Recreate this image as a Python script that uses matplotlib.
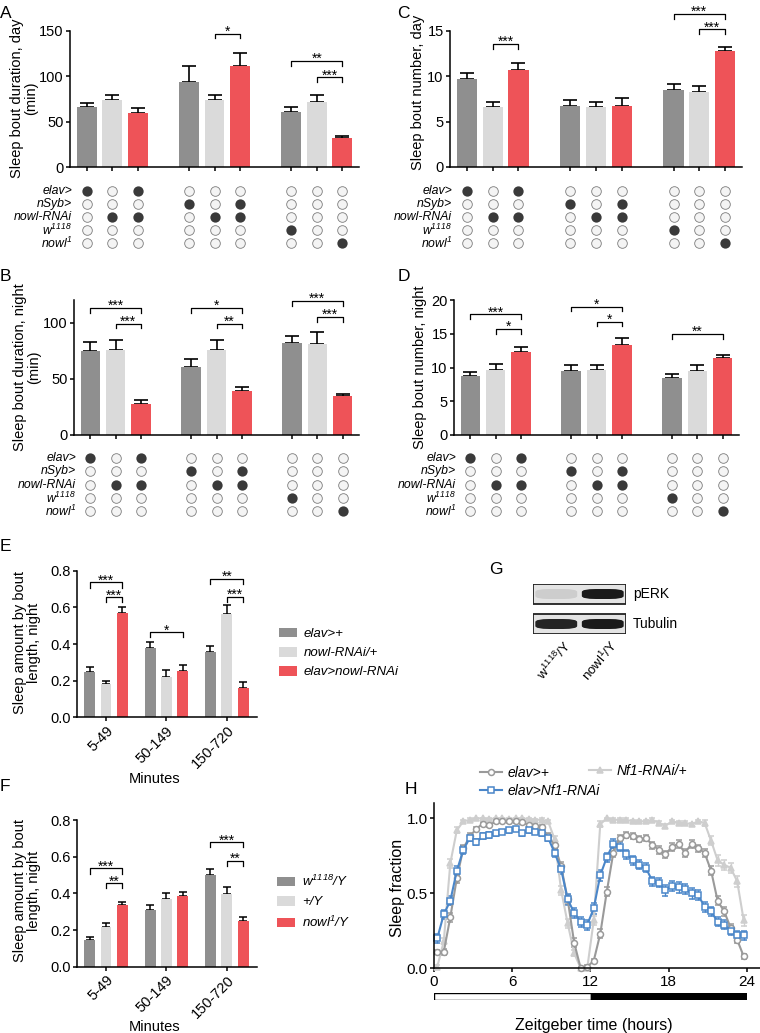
import numpy as np
import matplotlib
matplotlib.use('Agg')
import matplotlib.pyplot as plt
from matplotlib.patches import Rectangle, FancyBboxPatch
from matplotlib.lines import Line2D
from matplotlib.transforms import blended_transform_factory

plt.rcParams['font.family'] = ['Liberation Sans', 'DejaVu Sans']
plt.rcParams['axes.linewidth'] = 1.1
plt.rcParams['mathtext.default'] = 'regular'

FIG_W, FIG_H = 760, 1033

# colours
DARK_GREY = '#8f8f8f'
LIGHT_GREY = '#dadada'
RED = '#ee5358'
BAR_COLORS = [DARK_GREY, LIGHT_GREY, RED]
LINE_GREY = '#9a9a9a'
LINE_LIGHT = '#cecece'
LINE_BLUE = '#4a86c9'

# ---- panels A-D: nine bars in three groups ----
BAR_POS = [0, 1, 2, 4, 5, 6, 8, 9, 10]
GENO_ROWS = ['elav>', 'nSyb>', 'nowl-RNAi', 'w$^{1118}$', 'nowl$^{1}$']
GENO_ON = [
    [1, 0, 1, 0, 0, 0, 0, 0, 0],
    [0, 0, 0, 1, 0, 1, 0, 0, 0],
    [0, 1, 1, 0, 1, 1, 0, 0, 0],
    [0, 0, 0, 0, 0, 0, 1, 0, 0],
    [0, 0, 0, 0, 0, 0, 0, 0, 1],
]

a_mean = [66, 74, 60, 94, 74, 111, 61, 72, 32]
a_err = [5, 6, 5, 17, 6, 15, 5, 7.5, 2]
a_sig = [(4, 5, 147, '*'), (6, 8, 117, '**'), (7, 8, 99, '***')]

b_mean = [74.4, 76, 28, 60.3, 76, 38.8, 81.8, 81, 34.4]
b_err = [8.6, 8.7, 3, 7.3, 8.7, 3.6, 6.4, 10.8, 1.8]
b_sig = [(0, 2, 113, '***'), (1, 2, 99, '***'), (3, 5, 113, '*'),
         (4, 5, 99, '**'), (6, 8, 119, '***'), (7, 8, 105, '***')]

c_mean = [9.72, 6.67, 10.7, 6.75, 6.67, 6.75, 8.5, 8.29, 12.83]
c_err = [0.62, 0.48, 0.8, 0.65, 0.48, 0.91, 0.63, 0.69, 0.44]
c_sig = [(1, 2, 13.57, '***'), (6, 8, 16.9, '***'), (7, 8, 15.2, '***')]

d_mean = [8.8, 9.63, 12.35, 9.53, 9.63, 13.4, 8.4, 9.53, 11.36]
d_err = [0.6, 0.87, 0.75, 0.87, 0.77, 0.9, 0.6, 0.87, 0.49]
d_sig = [(0, 2, 17.9, '***'), (1, 2, 15.7, '*'), (3, 5, 19.0, '*'),
         (4, 5, 16.8, '*'), (6, 8, 14.96, '**')]

# ---- panels E, F: sleep amount by bout length ----
bout_bins = ['5-49', '50-149', '150-720']

e_names = ['elav>+', 'nowl-RNAi/+', 'elav>nowl-RNAi']
e_mean = [[0.245, 0.376, 0.355], [0.18, 0.218, 0.562], [0.567, 0.255, 0.162]]
e_err = [[0.028, 0.033, 0.036], [0.02, 0.04, 0.051], [0.037, 0.032, 0.031]]
e_sig = [(0, 0, 2, 0.736, '***'), (0, 1, 2, 0.655, '***'), (1, 0, 2, 0.464, '*'),
         (2, 0, 2, 0.755, '**'), (2, 1, 2, 0.658, '***')]

f_names = ['w$^{1118}$/Y', '+/Y', 'nowl$^{1}$/Y']
f_mean = [[0.145, 0.31, 0.5], [0.215, 0.37, 0.396], [0.335, 0.384, 0.247]]
f_err = [[0.015, 0.026, 0.033], [0.025, 0.03, 0.04], [0.02, 0.025, 0.026]]
f_sig = [(0, 0, 2, 0.536, '***'), (0, 1, 2, 0.455, '**'),
         (2, 0, 2, 0.68, '***'), (2, 1, 2, 0.578, '**')]

# ---- panel G: western blot band intensities ----
blot_lanes = ['w$^{1118}$/Y', 'nowl$^{1}$/Y']
blot_proteins = ['pERK', 'Tubulin']
blot_intensity = [[0.12, 1.0], [0.95, 1.0]]

# ---- panel H: sleep profile over 24 h ----
zt_hours = np.arange(0.25, 24.0, 0.5)
h_names = ['elav>+', 'elav>Nf1-RNAi', 'Nf1-RNAi/+']
elav_ctrl = [0.11, 0.11, 0.34, 0.60, 0.80, 0.88, 0.93, 0.965, 0.955, 0.98, 0.98, 0.98,
             0.98, 0.975, 0.955, 0.95, 0.94, 0.88, 0.82, 0.68, 0.46, 0.17, 0.00, 0.01,
             0.05, 0.23, 0.51, 0.77, 0.87, 0.89, 0.88, 0.86, 0.87, 0.82, 0.79, 0.76,
             0.81, 0.83, 0.77, 0.83, 0.80, 0.77, 0.65, 0.45, 0.38, 0.27, 0.19, 0.08]
elav_ctrl_err = [0.015, 0.02, 0.03, 0.03, 0.025, 0.02, 0.015, 0.01, 0.01, 0.01, 0.01, 0.01,
                 0.01, 0.01, 0.01, 0.01, 0.015, 0.02, 0.025, 0.03, 0.03, 0.03, 0.01, 0.01,
                 0.015, 0.03, 0.03, 0.03, 0.02, 0.02, 0.02, 0.02, 0.02, 0.025, 0.025, 0.025,
                 0.025, 0.025, 0.025, 0.025, 0.025, 0.025, 0.03, 0.03, 0.03, 0.025, 0.02, 0.015]
elav_nf1 = [0.20, 0.36, 0.45, 0.65, 0.79, 0.87, 0.84, 0.88, 0.89, 0.90, 0.91, 0.92,
            0.93, 0.90, 0.92, 0.91, 0.90, 0.87, 0.77, 0.66, 0.46, 0.37, 0.31, 0.29,
            0.40, 0.62, 0.74, 0.83, 0.81, 0.76, 0.72, 0.69, 0.67, 0.58, 0.57, 0.52,
            0.55, 0.54, 0.53, 0.50, 0.49, 0.41, 0.38, 0.31, 0.29, 0.25, 0.22, 0.22]
elav_nf1_err = [0.03, 0.03, 0.03, 0.03, 0.025, 0.02, 0.02, 0.02, 0.02, 0.015, 0.015, 0.015,
                0.015, 0.015, 0.015, 0.015, 0.015, 0.02, 0.025, 0.03, 0.035, 0.035, 0.035, 0.035,
                0.035, 0.035, 0.03, 0.03, 0.03, 0.03, 0.03, 0.03, 0.03, 0.03, 0.03, 0.035,
                0.035, 0.035, 0.035, 0.035, 0.035, 0.035, 0.03, 0.03, 0.03, 0.03, 0.03, 0.03]
nf1_ctrl = [0.01, 0.18, 0.70, 0.92, 0.98, 0.99, 1.0, 1.0, 0.995, 1.0, 1.0, 0.995,
            1.0, 1.0, 0.995, 0.99, 0.99, 0.98, 0.86, 0.52, 0.30, 0.10, 0.0, 0.0,
            0.32, 0.96, 1.0, 0.99, 0.99, 0.99, 0.98, 0.98, 0.98, 0.99, 0.97, 0.95,
            0.98, 0.97, 0.97, 0.96, 0.98, 0.97, 0.85, 0.72, 0.69, 0.67, 0.58, 0.32]
nf1_ctrl_err = [0.01, 0.02, 0.03, 0.02, 0.01, 0.01, 0.005, 0.005, 0.005, 0.005, 0.005, 0.005,
                0.005, 0.005, 0.005, 0.005, 0.01, 0.01, 0.02, 0.03, 0.03, 0.02, 0.005, 0.005,
                0.03, 0.02, 0.005, 0.01, 0.01, 0.01, 0.01, 0.01, 0.01, 0.01, 0.01, 0.015,
                0.01, 0.01, 0.01, 0.01, 0.01, 0.02, 0.03, 0.035, 0.035, 0.035, 0.035, 0.035]
ld_starts = [0, 12]
ld_lengths = [12, 12]
ld_colors = ['white', 'black']


def px_axes(fig, left, top, right, bottom):
    """Add an axes given by pixel edges measured from the top-left corner."""
    return fig.add_axes([left / FIG_W, 1 - bottom / FIG_H,
                         (right - left) / FIG_W, (bottom - top) / FIG_H])


def style_axes(ax):
    ax.spines['top'].set_visible(False)
    ax.spines['right'].set_visible(False)
    ax.tick_params(length=3, width=1.1, labelsize=10.5, pad=1.5)


def bracket(ax, x1, x2, y, text, drop, fs=10):
    """Significance bracket with stars above it."""
    ax.plot([x1, x1, x2, x2], [y - drop, y, y, y - drop], color='black',
            lw=0.9, clip_on=False)
    ax.text((x1 + x2) / 2, y - drop * 0.45, text, ha='center', va='baseline',
            fontsize=fs, clip_on=False)


def letter(fig, text, left, top):
    fig.text(left / FIG_W, 1 - top / FIG_H, text, fontsize=12.5, ha='left', va='top')


def bar_panel(fig, box, means, errs, sigs, ylim, yticks, ylabel, label_xy):
    ax = px_axes(fig, *box)
    style_axes(ax)
    x = np.array(BAR_POS)
    colors = [BAR_COLORS[i % 3] for i in range(len(means))]
    ax.errorbar(x, means, yerr=[np.zeros(len(errs)), errs], fmt='none', ecolor='black',
                elinewidth=1.2, capsize=5, capthick=1.2, zorder=1)
    ax.bar(x, means, width=0.78, color=colors, zorder=2)
    ax.set_xlim(-0.65, 10.65)
    ax.set_ylim(*ylim)
    ax.set_yticks(yticks)
    ax.set_xticks(x)
    ax.set_xticklabels([])
    ax.set_ylabel(ylabel, fontsize=10.5, linespacing=1.0)
    ax.yaxis.set_label_coords(*label_xy)
    drop = 0.035 * (ylim[1] - ylim[0])
    for i, j, y, txt in sigs:
        bracket(ax, x[i], x[j], y, txt, drop)
    return ax


def genotype_matrix(fig, box):
    ax = px_axes(fig, *box)
    ax.set_xlim(-0.65, 10.65)
    ax.set_ylim(4.5, -0.5)
    ax.axis('off')
    for r, row in enumerate(GENO_ON):
        for b, on in enumerate(row):
            if on:
                ax.scatter(BAR_POS[b], r, s=55, color='#3a3a3a', lw=0, clip_on=False)
            else:
                ax.scatter(BAR_POS[b], r, s=48, facecolor='#f4f4f4', edgecolor='#7c7c7c',
                           lw=0.6, clip_on=False)
    trans = blended_transform_factory(ax.transAxes, ax.transData)
    for r, name in enumerate(GENO_ROWS):
        ax.text(0.008, r, name, transform=trans, ha='right', va='center',
                style='italic', fontsize=8.8)


def grouped_panel(fig, box, means, errs, names, sigs, label_xy, xlabel_xy, legend_center):
    ax = px_axes(fig, *box)
    style_axes(ax)
    offsets = [-0.27, 0.0, 0.27]
    cats = np.arange(len(bout_bins))
    for k in range(len(means)):
        xs = cats + offsets[k]
        ax.errorbar(xs, means[k], yerr=[np.zeros(len(errs[k])), errs[k]], fmt='none',
                    ecolor='black', elinewidth=1.1, capsize=3, capthick=1.1, zorder=1)
        ax.bar(xs, means[k], width=0.18, color=BAR_COLORS[k], label=names[k], zorder=2)
    ax.set_xlim(-0.48, 2.5)
    ax.set_ylim(0, 0.8)
    ax.set_yticks([0, 0.2, 0.4, 0.6, 0.8])
    ax.set_yticklabels(['0.0', '0.2', '0.4', '0.6', '0.8'])
    ax.set_xticks(cats)
    ax.set_xticklabels(bout_bins, rotation=45, ha='right', rotation_mode='anchor', fontsize=10.5)
    ax.set_ylabel('Sleep amount by bout\nlength, night', fontsize=10.5, linespacing=1.0)
    ax.yaxis.set_label_coords(*label_xy)
    ax.set_xlabel('Minutes', fontsize=10.5, va='top')
    ax.xaxis.set_label_coords(*xlabel_xy)
    for c, i, j, y, txt in sigs:
        bracket(ax, c + offsets[i], c + offsets[j], y, txt, 0.028)
    ax.legend(loc='center left', bbox_to_anchor=(legend_center[0] / FIG_W, 1 - legend_center[1] / FIG_H),
              bbox_transform=fig.transFigure, frameon=False, borderpad=0, handlelength=1.36,
              handleheight=0.76, handletextpad=0.55, labelspacing=0.5,
              prop={'size': 9.5, 'style': 'italic'})
    return ax


def blot_panel(fig):
    ax = px_axes(fig, 533, 584, 626, 634)
    ax.set_xlim(0, 2)
    ax.set_ylim(0, 5)
    ax.axis('off')
    row_bottoms = [3, 0]
    for r, prot in enumerate(blot_proteins):
        y0 = row_bottoms[r]
        ax.add_patch(Rectangle((0, y0), 2, 2, facecolor='#e4e4e4', edgecolor='#222222', lw=1.3))
        for lane, inten in enumerate(blot_intensity[r]):
            shade = 1 - inten
            col = (0.1 + 0.8 * shade,) * 3
            ax.add_patch(FancyBboxPatch((lane + 0.1, y0 + 0.55), 0.8, 0.9,
                                        boxstyle='round,pad=0.05,rounding_size=0.3',
                                        facecolor=col, edgecolor='none'))
        ax.text(2.15, y0 + 1, prot, ha='left', va='center', fontsize=10)
    for lane, name in enumerate(blot_lanes):
        ax.text(lane + 0.65, -0.4, name, ha='right', va='top', rotation=50,
                rotation_mode='anchor', fontsize=9.5)


def profile_panel(fig):
    ax = px_axes(fig, 434, 803.3, 760, 968.3)
    style_axes(ax)
    series = [(nf1_ctrl, nf1_ctrl_err, LINE_LIGHT, '^', LINE_LIGHT, h_names[2]),
              (elav_ctrl, elav_ctrl_err, LINE_GREY, 'o', 'white', h_names[0]),
              (elav_nf1, elav_nf1_err, LINE_BLUE, 's', 'white', h_names[1])]
    handles = {}
    for vals, err, col, mk, face, name in series:
        ax.errorbar(zt_hours, vals, yerr=err, color=col, marker=mk, mfc=face, mec=col,
                    ms=4.3, mew=1.1, lw=1.5, elinewidth=1.0, capsize=2, capthick=1.0,
                    clip_on=False)
        handles[name] = Line2D([], [], color=col, marker=mk, mfc=face, mec=col,
                               ms=4.3, mew=1.1, lw=1.5)
    ax.set_xlim(0, 25)
    ax.set_ylim(0, 1.1)
    ax.set_xticks([0, 6, 12, 18, 24])
    ax.set_yticks([0, 0.5, 1.0])
    ax.set_yticklabels(['0.0', '0.5', '1.0'])
    ax.tick_params(labelsize=11)
    ax.set_ylabel('Sleep fraction', fontsize=11.5)
    ax.yaxis.set_label_coords(-0.089, 0.49)
    ax.set_xlabel('Zeitgeber time (hours)', fontsize=11.5, va='top')
    ax.xaxis.set_label_coords(0.49, -0.30)
    leg_kw = dict(frameon=False, borderpad=0, handlelength=1.6, handletextpad=0.4,
                  labelspacing=0.3, prop={'size': 10, 'style': 'italic'},
                  bbox_transform=fig.transFigure, loc='lower left')
    leg1 = ax.legend([handles[h_names[0]], handles[h_names[1]]], h_names[:2],
                     bbox_to_anchor=(473 / FIG_W, 1 - 805 / FIG_H), **leg_kw)
    ax.add_artist(leg1)
    ax.legend([handles[h_names[2]]], [h_names[2]],
              bbox_to_anchor=(582 / FIG_W, 1 - 785 / FIG_H), **leg_kw)

    # light/dark bar under the axis
    ld = px_axes(fig, 434, 993, 747, 1000)
    ld.barh(0.5, ld_lengths, left=ld_starts, height=1, color=ld_colors,
            edgecolor='black', lw=1)
    ld.set_xlim(0, 24)
    ld.set_ylim(0, 1)
    ld.axis('off')


def main():
    fig = plt.figure(figsize=(FIG_W / 100, FIG_H / 100), dpi=100)

    bar_panel(fig, (70, 31, 359, 167.3), a_mean, a_err, a_sig, (0, 150), [0, 50, 100, 150],
              'Sleep bout duration, day\n(min)', (-0.112, 0.51))
    genotype_matrix(fig, (70, 184, 359, 250))
    bar_panel(fig, (450, 31, 742, 167), c_mean, c_err, c_sig, (0, 15), [0, 5, 10, 15],
              'Sleep bout number, day', (-0.085, 0.55))
    genotype_matrix(fig, (450, 184, 742, 250))
    bar_panel(fig, (74, 300, 359, 435), b_mean, b_err, b_sig, (0, 120), [0, 50, 100],
              'Sleep bout duration, night\n(min)', (-0.115, 0.5))
    genotype_matrix(fig, (74, 451, 359, 518))
    bar_panel(fig, (454, 300, 739, 435), d_mean, d_err, d_sig, (0, 20), [0, 5, 10, 15, 20],
              'Sleep bout number, night', (-0.095, 0.5))
    genotype_matrix(fig, (454, 451, 739, 518))

    grouped_panel(fig, (77, 570.7, 257, 717.3), e_mean, e_err, e_names, e_sig,
                  (-0.2, 0.51), (0.43, -0.37), (272, 653))
    grouped_panel(fig, (77, 820, 257, 966.7), f_mean, f_err, f_names, f_sig,
                  (-0.2, 0.52), (0.43, -0.36), (270, 902))
    blot_panel(fig)
    profile_panel(fig)

    for txt, left, top in [('A', 0, 6), ('C', 397, 6), ('B', 0, 269), ('D', 398, 269),
                           ('E', 0, 539), ('F', 0, 779), ('G', 489, 562), ('H', 405, 782)]:
        letter(fig, txt, left, top)

    fig.savefig('out.png', dpi=100)


if __name__ == '__main__':
    main()
